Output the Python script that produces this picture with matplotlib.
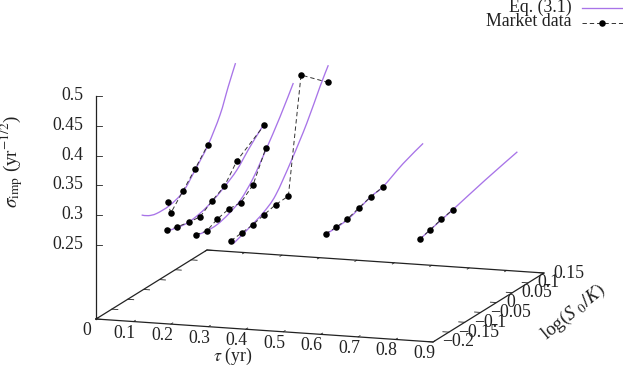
import numpy as np
import matplotlib
matplotlib.use("Agg")
import matplotlib.pyplot as plt
from matplotlib.path import Path
from matplotlib.patches import PathPatch

plt.rcParams['font.family'] = ['Liberation Serif', 'DejaVu Serif']
plt.rcParams['mathtext.fontset'] = 'stix'

# maturities (yr)
taus = [0.077, 0.137, 0.217, 0.313, 0.567, 0.817]

# Eq. (3.1) curves: log-moneyness, implied vol
curve_k_a = [-.147, -.126, -.100, -.058, -.016, .022, .062, .100, .126, .149]
curve_s_a = [.286, .278, .273, .273, .282, .306, .334, .372, .411, .443]
curve_k_b = [-.129, -.076, -.034, .003, .043, .082, .118, .145, .168]
curve_s_b = [.257, .251, .254, .261, .273, .288, .310, .325, .337]
curve_k_c = [-.134, -.107, -.074, -.037, .000, .039, .079, .124, .166]
curve_s_c = [.255, .252, .252, .258, .269, .292, .326, .367, .410]
curve_k_d = [-.135, -.110, -.076, -.040, -.003, .047, .095, .137, .163]
curve_s_d = [.245, .250, .257, .266, .282, .324, .370, .418, .445]
curve_k_e = [-.141, -.077, -.003, .035, .099, .162]
curve_s_e = [.274, .276, .290, .294, .312, .325]
curve_k_f = [-.144, -.076, -.040, .062, .164]
curve_s_f = [.276, .286, .291, .307, .321]

# market data
mkt_k_a = [-.065, -.055, -.017, .022, .062]
mkt_s_a = [.281, .259, .283, .308, .335]
mkt_k_b = [-.139, -.106, -.070, -.034, .003, .043, .083, .169]
mkt_s_b = [.260, .255, .251, .248, .262, .274, .304, .335]
mkt_k_c = [-.141, -.107, -.074, -.037, .000, .039, .079]
mkt_s_c = [.257, .252, .261, .266, .264, .281, .329]
mkt_k_d = [-.144, -.110, -.076, -.040, -.003, .037, .077, .163]
mkt_s_d = [.252, .254, .256, .261, .266, .267, .457, .416]
mkt_k_e = [-.145, -.112, -.077, -.040, -.003, .035]
mkt_s_e = [.275, .275, .277, .284, .290, .294]
mkt_k_f = [-.144, -.111, -.076, -.040]
mkt_s_f = [.276, .281, .287, .291]

curves = [(curve_k_a, curve_s_a), (curve_k_b, curve_s_b), (curve_k_c, curve_s_c),
          (curve_k_d, curve_s_d), (curve_k_e, curve_s_e), (curve_k_f, curve_s_f)]
markets = [(mkt_k_a, mkt_s_a), (mkt_k_b, mkt_s_b), (mkt_k_c, mkt_s_c),
           (mkt_k_d, mkt_s_d), (mkt_k_e, mkt_s_e), (mkt_k_f, mkt_s_f)]

tau_ticks = [0, .1, .2, .3, .4, .5, .6, .7, .8, .9]
tau_labels = ['0', '0.1', '0.2', '0.3', '0.4', '0.5', '0.6', '0.7', '0.8', '0.9']
k_ticks = [-.2, -.15, -.1, -.05, 0, .05, .1, .15]
k_labels = ['\u22120.2', '\u22120.15', '\u22120.1', '\u22120.05', '0', '0.05', '0.1', '0.15']
s_ticks = [.25, .3, .35, .4, .45, .5]
s_labels = ['0.25', '0.3', '0.35', '0.4', '0.45', '0.5']

# orthographic view of the 3D box (gnuplot style), expressed on a pixel canvas
TAU0, TAU1 = 0.0, 0.9
K0, K1 = -0.2, 0.15
S0, S1 = 0.1258, 0.5
OX, OY = 96.0, 319.0


def proj(tau, k, s):
    tau, k, s = np.asarray(tau, float), np.asarray(k, float), np.asarray(s, float)
    t = (tau - TAU0) / (TAU1 - TAU0)
    u = (k - K0) / (K1 - K0)
    return OX + 337 * t + 111 * u, OY + 23 * t - 69 * u - 596 * (s - S0)


def smooth_path(x, y):
    """Path through the given vertices, drawn with cubic Bezier segments."""
    p = np.column_stack([x, y])
    verts = [p[0]]
    codes = [Path.MOVETO]
    for i in range(len(p) - 1):
        prev = p[max(i - 1, 0)]
        nxt = p[min(i + 2, len(p) - 1)]
        verts += [p[i] + (p[i + 1] - prev) / 6, p[i + 1] - (nxt - p[i]) / 6, p[i + 1]]
        codes += [Path.CURVE4] * 3
    return Path(verts, codes)


W, H = 623, 367
fig = plt.figure(figsize=(W / 100, H / 100), dpi=100)
ax = fig.add_axes([0, 0, 1, 1])
ax.set_xlim(0, W)
ax.set_ylim(H, 0)
ax.axis('off')

AXC = '#222222'
PURPLE = '#a874e8'
FS = 12.8
FST = 13.8
axkw = dict(color=AXC, lw=0.9, solid_capstyle='projecting', zorder=2)
tkw = dict(color=AXC, lw=0.6, zorder=2)

# base box
ax.plot(*proj([TAU0, TAU1, TAU1, TAU0, TAU0], [K0, K0, K1, K1, K0], [S0] * 5), **axkw)
# vertical axis
ax.plot(*proj([TAU0, TAU0], [K0, K0], [S0, S1]), **axkw)

for t, lab in zip(tau_ticks, tau_labels):
    x, y = proj(t, K0, S0)
    ax.plot(*proj([t, t], [K0, K0 + .006], [S0, S0]), **tkw)
    ax.plot(*proj([t, t], [K1, K1 - .006], [S0, S0]), **tkw)
    ax.text(x - 9, y + 11.5, lab, ha='center', va='center', fontsize=FS, color=AXC)

for k, lab in zip(k_ticks, k_labels):
    ax.plot(*proj([TAU0, TAU0 + .016], [k, k], [S0, S0]), **tkw)
    ax.plot(*proj([TAU1, TAU1 - .016], [k, k], [S0, S0]), **tkw)
    xr, yr = proj(TAU1, k, S0)
    ax.text(xr + 9.5, yr, lab, ha='left', va='center', fontsize=FS, color=AXC)

for s, lab in zip(s_ticks, s_labels):
    x, y = proj(TAU0, K0, s)
    ax.plot([x, x + 6], [y, y], **tkw)
    ax.text(x - 12.5, y - 0.5, lab, ha='right', va='center', fontsize=FS, color=AXC)

# curves and data
for tau, (k, s) in zip(taus, curves):
    px, py = proj(np.full(len(k), tau), k, s)
    ax.add_patch(PathPatch(smooth_path(px, py), fc='none', ec=PURPLE, lw=0.95, zorder=3))
for tau, (k, s) in zip(taus, markets):
    ax.plot(*proj(np.full(len(k), tau), k, s), color='#333333', lw=0.7, ls=(0, (4.5, 3)),
            marker='o', ms=4.7, mfc='black', mec='black', mew=0, zorder=4)

# axis titles
ax.text(232.5, 356.5, r'$\tau$ (yr)', ha='center', va='center', fontsize=FS, color=AXC)
ax.text(573, 312, r'log$(S\;_0/K)$', ha='center', va='center', rotation=39,
        fontsize=FST, color=AXC, rotation_mode='anchor')
ax.text(12, 161, r'$\sigma_{\mathrm{imp}}$ (yr$^{-1/2}$)', ha='center', va='center',
        rotation=90, fontsize=FST, color=AXC)

# legend
ax.text(572, 7.5, 'Eq. (3.1)', ha='right', va='center', fontsize=FS, color=AXC)
ax.text(572, 22, 'Market data', ha='right', va='center', fontsize=FS, color=AXC)
ax.plot([582, 623], [7.7, 7.7], color=PURPLE, lw=0.95)
ax.plot([582, 623], [22.7, 22.7], color='#333333', lw=0.7, ls=(0, (4.5, 3)))
ax.plot([602], [22.7], 'o', ms=4.7, mfc='black', mec='black', mew=0)

fig.savefig('out.png', dpi=100)
